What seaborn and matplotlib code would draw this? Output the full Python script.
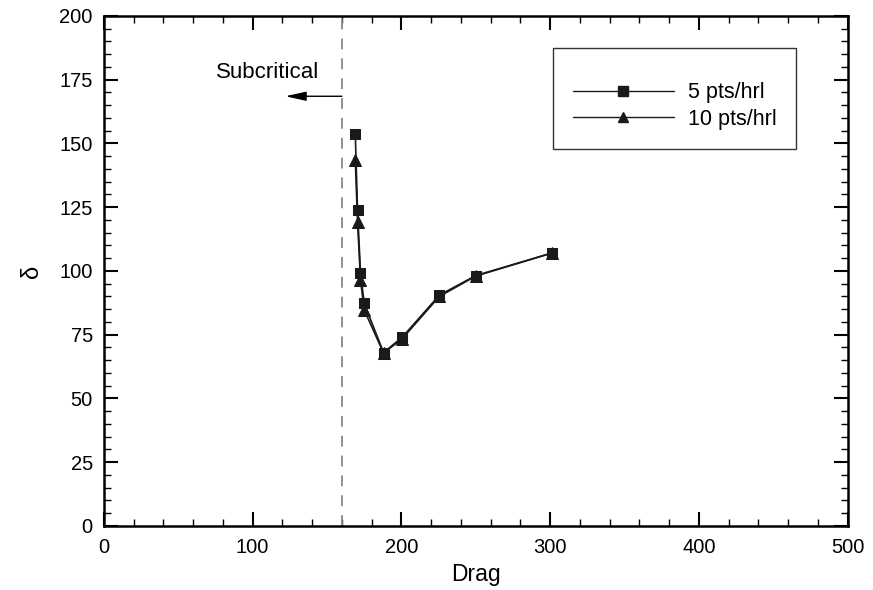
import numpy as np
import pandas as pd
import matplotlib
matplotlib.use("Agg")
import matplotlib.pyplot as plt
import seaborn as sns
from matplotlib.lines import Line2D
from matplotlib.ticker import MultipleLocator

sns.set_style("ticks")
plt.rcParams['font.family'] = ['Liberation Sans', 'DejaVu Sans']
plt.rcParams['text.color'] = 'black'
plt.rcParams['axes.labelcolor'] = 'black'
plt.rcParams['xtick.color'] = 'black'
plt.rcParams['ytick.color'] = 'black'

drag_5 = [169, 170.5, 172.5, 175, 188, 200.5, 225.5, 250, 301]
delta_5 = [153.7, 123.9, 99.3, 87.3, 68.0, 74.0, 90.5, 98.2, 107.0]
drag_10 = [169, 170.5, 172.5, 175, 188, 200.5, 225.5, 250, 301]
delta_10 = [143.5, 119.3, 96.5, 84.7, 67.8, 73.4, 90.0, 98.0, 107.0]
series_labels = ["5 pts/hrl", "10 pts/hrl"]
subcritical_drag = 160

df5 = pd.DataFrame({"Drag": drag_5, "delta": delta_5, "series": series_labels[0]})
df10 = pd.DataFrame({"Drag": drag_10, "delta": delta_10, "series": series_labels[1]})

fig = plt.figure(figsize=(8.73, 5.90), dpi=100)
ax = fig.add_axes([0.119, 0.1085, 0.852, 0.8645])

sns.lineplot(data=df10, x="Drag", y="delta", ax=ax, color="#1a1a1a", marker="^",
             markersize=8, markeredgecolor="#1a1a1a", linewidth=1.2, sort=False,
             legend=False, zorder=3)
sns.lineplot(data=df5, x="Drag", y="delta", ax=ax, color="#1a1a1a", marker="s",
             markersize=7.5, markeredgecolor="#1a1a1a", linewidth=1.2, sort=False,
             legend=False, zorder=4)

ax.axvline(subcritical_drag, color="#888888", linestyle=(0, (6, 5)), linewidth=1.3, zorder=2)
ax.annotate("", xy=(122, 168.5), xytext=(subcritical_drag, 168.5),
            arrowprops=dict(arrowstyle="-|>,head_length=0.9,head_width=0.2", color="black", lw=1.0,
                            mutation_scale=14, shrinkA=0, shrinkB=0))
ax.text(110, 178, "Subcritical", ha="center", va="center", fontsize=16)

ax.set_xlim(0, 500)
ax.set_ylim(0, 200)
ax.xaxis.set_major_locator(MultipleLocator(100))
ax.xaxis.set_minor_locator(MultipleLocator(20))
ax.yaxis.set_major_locator(MultipleLocator(25))
ax.yaxis.set_minor_locator(MultipleLocator(5))
ax.tick_params(which="both", direction="in", top=True, right=True, color="black")
ax.tick_params(which="major", length=10, width=1.5, labelsize=14.5)
ax.tick_params(axis="x", which="major", pad=9)
ax.tick_params(axis="y", which="major", pad=8)
ax.tick_params(which="minor", length=5, width=1.0)
for s in ax.spines.values():
    s.set_linewidth(1.8)
    s.set_color("black")
ax.set_xlabel("Drag", fontsize=16.5, labelpad=4)
ax.set_ylabel("δ", fontsize=17, labelpad=12)

handles = [
    Line2D([], [], color="#1a1a1a", marker="s", markersize=6.5, linewidth=1.0),
    Line2D([], [], color="#1a1a1a", marker="^", markersize=7, linewidth=1.0),
]
leg = ax.legend(handles, series_labels, loc="upper left", bbox_to_anchor=(0.604, 0.938),
                fontsize=15.5, frameon=True, fancybox=False, handlelength=4.7,
                handletextpad=0.65, borderpad=0.9, labelspacing=0.25,
                borderaxespad=0, edgecolor="black", title=" ", title_fontsize=7)
leg.get_frame().set_linewidth(1.0)

fig.savefig("out.png", dpi=100)
